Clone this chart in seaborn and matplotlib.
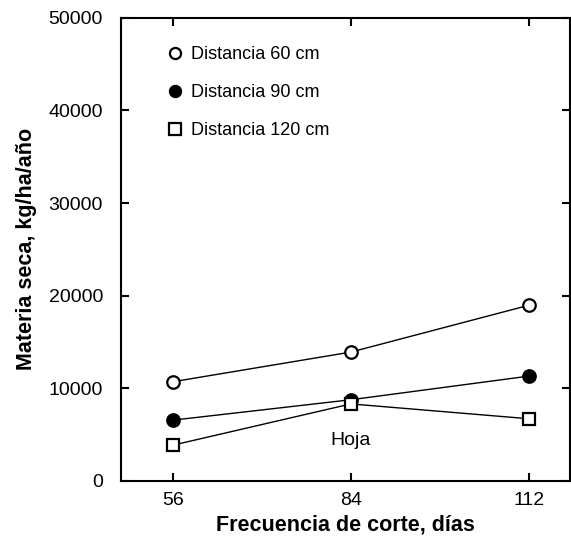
import numpy as np
import pandas as pd
import matplotlib
matplotlib.use("Agg")
import matplotlib.pyplot as plt
import seaborn as sns
from matplotlib.lines import Line2D

# Data (leaf dry matter, kg/ha/year)
frecuencia = [56, 84, 112]
dist_60 = [10700, 13900, 18950]
dist_90 = [6550, 8750, 11300]
dist_120 = [3850, 8300, 6700]
series_names = ["Distancia 60 cm", "Distancia 90 cm", "Distancia 120 cm"]

df = pd.DataFrame({
    "frecuencia": frecuencia * 3,
    "materia": dist_60 + dist_90 + dist_120,
    "serie": np.repeat(series_names, len(frecuencia)),
})

sns.set_style("ticks", {"text.color": "black", "axes.labelcolor": "black",
                        "xtick.color": "black", "ytick.color": "black",
                        "axes.edgecolor": "black"})
plt.rcParams["font.family"] = ["Liberation Sans", "DejaVu Sans"]

fig = plt.figure(figsize=(5.71, 5.42), dpi=100)
ax = fig.add_axes([0.212, 0.113, 0.786, 0.854])

markers = {"Distancia 60 cm": "o", "Distancia 90 cm": "o", "Distancia 120 cm": "s"}
palette = {n: "black" for n in series_names}

sns.lineplot(data=df, x="frecuencia", y="materia", hue="serie", style="serie",
             markers=markers, dashes=False, palette=palette, linewidth=1,
             markersize=9, ax=ax, legend=False)

# marker faces: open, filled, open
faces = ["white", "black", "white"]
for line, fc in zip(ax.get_lines(), faces):
    line.set_markerfacecolor(fc)
    line.set_markeredgecolor("black")
    line.set_markeredgewidth(1.6)

# legend handles
handles = [Line2D([], [], ls="none", marker=markers[n], mfc=fc, mec="black",
                  mew=1.6, ms=8) for n, fc in zip(series_names, faces)]
ax.legend(handles, series_names, loc="upper left", bbox_to_anchor=(0.085, 0.954),
          frameon=False, fontsize=13, handletextpad=0.35, labelspacing=1.15,
          handlelength=1.0, borderaxespad=0)

ax.text(84, 4300, "Hoja", ha="center", va="center", fontsize=14)

ax.set_xlim(47.8, 118.5)
ax.set_ylim(0, 50000)
ax.set_xticks(frecuencia)
ax.set_yticks(np.arange(0, 50001, 10000))
ax.tick_params(direction="in", length=6, width=1.5, labelsize=14,
               top=True, right=True)
ax.tick_params(axis="y", pad=13)
ax.tick_params(axis="x", pad=8)
for s in ax.spines.values():
    s.set_linewidth(1.5)

ax.set_xlabel("Frecuencia de corte, días", fontsize=15.5, fontweight="bold", labelpad=4)
ax.set_ylabel("Materia seca, kg/ha/año", fontsize=15.5, fontweight="bold", labelpad=8)

fig.savefig("out.png", dpi=100)
